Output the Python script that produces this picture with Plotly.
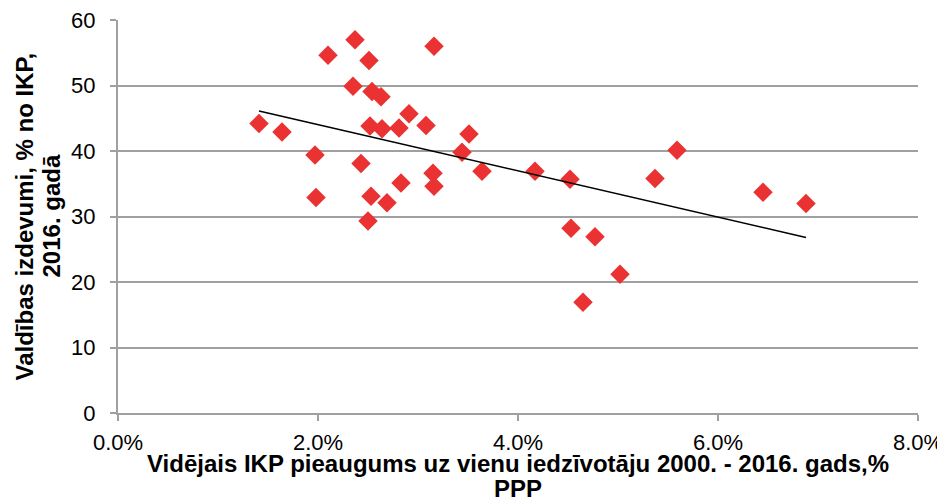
import numpy as np
import plotly.graph_objects as go

gdp_growth = [1.41, 1.64, 1.97, 1.98, 2.10, 2.35, 2.37, 2.43, 2.50, 2.51, 2.52, 2.53,
              2.54, 2.63, 2.64, 2.69, 2.81, 2.83, 2.91, 3.08, 3.15, 3.16, 3.16, 3.44,
              3.51, 3.64, 4.17, 4.52, 4.53, 4.65, 4.77, 5.02, 5.37, 5.59, 6.45, 6.88]
gov_spending = [44.2, 42.9, 39.4, 32.9, 54.6, 49.9, 57.0, 38.1, 29.3, 53.8, 43.8, 33.1,
                49.1, 48.3, 43.4, 32.1, 43.5, 35.1, 45.7, 43.9, 36.6, 34.6, 56.0, 39.8,
                42.6, 36.9, 36.9, 35.7, 28.2, 16.9, 26.9, 21.2, 35.8, 40.1, 33.7, 32.0]
x_title_lines = ["Vidējais IKP pieaugums uz vienu iedzīvotāju 2000. - 2016. gads,%", "PPP"]
y_title_lines = ["Valdības izdevumi, % no IKP,", "2016. gadā"]

x = np.array(gdp_growth) / 100.0
y = np.array(gov_spending)
slope, intercept = np.polyfit(x, y, 1)
tx = np.array([x.min(), x.max()])
ty = slope * tx + intercept

FONT = "Liberation Sans, Arial, sans-serif"
GRID = "#a0a0a0"

fig = go.Figure()
fig.add_trace(go.Scatter(x=x, y=y, mode="markers",
                         marker=dict(symbol="diamond", size=15, color="#ea3232",
                                     line=dict(width=0)),
                         showlegend=False))
fig.add_trace(go.Scatter(x=tx, y=ty, mode="lines",
                         line=dict(color="black", width=1.6), showlegend=False))

title_font = dict(size=24, family=FONT, color="black")
annotations = [
    dict(text="<b>%s</b>" % x_title_lines[0], xref="paper", yref="paper", x=0.5, y=0,
         xanchor="center", yanchor="middle", yshift=-50, showarrow=False, font=title_font),
    dict(text="<b>%s</b>" % x_title_lines[1], xref="paper", yref="paper", x=0.5, y=0,
         xanchor="center", yanchor="middle", yshift=-75, showarrow=False, font=title_font),
    dict(text="<b>%s</b>" % y_title_lines[0], xref="paper", yref="paper", x=0, y=0.5,
         xanchor="center", yanchor="middle", xshift=-94, textangle=-90,
         showarrow=False, font=title_font),
    dict(text="<b>%s</b>" % y_title_lines[1], xref="paper", yref="paper", x=0, y=0.5,
         xanchor="center", yanchor="middle", xshift=-67, textangle=-90,
         showarrow=False, font=title_font),
]

fig.update_layout(
    width=945, height=500,
    margin=dict(l=110, r=35, t=12, b=95),
    paper_bgcolor="white", plot_bgcolor="white",
    font=dict(family=FONT, color="black"),
    annotations=annotations,
    xaxis=dict(range=[0, 0.08], dtick=0.02, tickformat=".1%",
               showgrid=False, zeroline=False, automargin=False,
               showline=True, linecolor=GRID, linewidth=2,
               ticks="outside", ticklen=6, tickcolor=GRID, tickwidth=2,
               ticklabelstandoff=3, ticklabeloverflow="allow",
               tickfont=dict(size=22, family=FONT)),
    yaxis=dict(range=[0, 60], dtick=10,
               showgrid=True, gridcolor=GRID, gridwidth=2, zeroline=False,
               automargin=False,
               showline=True, linecolor=GRID, linewidth=2,
               ticks="outside", ticklen=6, tickcolor=GRID, tickwidth=2,
               ticklabelstandoff=10, ticklabeloverflow="allow",
               tickfont=dict(size=22, family=FONT)),
)

fig.write_html("out.html")
